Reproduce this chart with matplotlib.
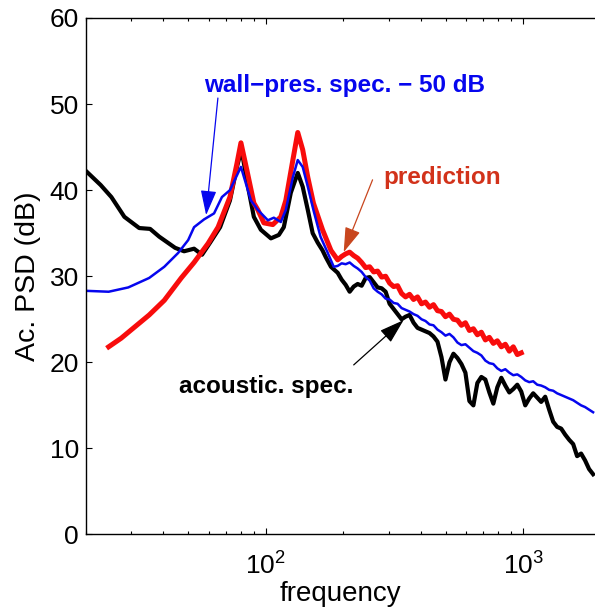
import matplotlib
matplotlib.use('Agg')
import matplotlib.pyplot as plt
from matplotlib.ticker import NullFormatter

plt.rcParams['font.family'] = ['Liberation Sans', 'DejaVu Sans']
plt.rcParams['mathtext.fontset'] = 'custom'
plt.rcParams['mathtext.rm'] = 'Liberation Sans'
plt.rcParams['mathtext.it'] = 'Liberation Sans:italic'

# --------------------------------------------------
# spectra (frequency in Hz, level in dB)
# --------------------------------------------------

# low-frequency part, resonance peaks
acou_f_low = [20.2, 22.8, 25.1, 28.2, 32.2, 35.5, 38.5, 44.4, 48.1, 52.6, 56.5,
              60.7, 66.4, 72.5, 77.2, 80.0, 81.4, 85.2, 89.8, 95.6, 104.6, 112.3,
              117.4, 125.0, 133.0, 139.0, 145.5, 152.0, 159.0, 166.0, 171.0, 179.0]
acou_db_low = [42.1, 40.6, 39.2, 36.9, 35.6, 35.5, 34.6, 33.3, 32.9, 33.2, 32.5,
               33.9, 35.7, 38.8, 42.7, 44.5, 43.8, 40.4, 36.9, 35.4, 34.4, 34.8,
               35.7, 39.7, 42.0, 40.4, 37.7, 35.0, 33.9, 33.0, 32.2, 31.1]

pred_f_low = [24.5, 27.4, 35.2, 40.3, 46.9, 52.6, 59.6, 65.2, 72.5, 77.2, 80.0,
              84.4, 89.8, 93.1, 98.2, 106.4, 114.3, 119.5, 127.3, 133.0, 139.0,
              145.5, 153.0, 166.0, 179.0]
pred_db_low = [21.8, 22.8, 25.5, 27.2, 29.8, 31.6, 33.8, 35.7, 39.2, 43.1, 45.5,
               42.3, 38.5, 37.7, 36.2, 36.0, 36.9, 38.8, 43.5, 46.7, 44.7,
               41.5, 38.5, 35.4, 33.0]

wall_f_low = [20.2, 24.5, 29.2, 35.2, 40.3, 45.6, 49.9, 52.6, 57.5, 62.9, 67.5,
              72.5, 80.0, 87.5, 93.1, 101.8, 107.4, 114.3, 119.5, 127.3, 133.0,
              139.0, 145.5, 153.0, 163.0, 174.0, 183.5]
wall_db_low = [28.3, 28.2, 28.7, 29.8, 31.1, 32.7, 34.2, 35.7, 36.6, 37.3, 39.2,
               40.0, 42.7, 38.8, 37.7, 36.5, 36.8, 36.3, 37.7, 41.5, 43.5,
               42.7, 40.4, 37.7, 34.6, 32.7, 31.1]

# broadband tail
f_tail = [190.1, 197.0, 204.2, 211.6, 219.4, 227.3, 235.6, 244.2, 253.1, 262.3,
          271.8, 281.7, 291.9, 302.5, 313.5, 324.9, 336.7, 348.9, 361.6, 374.8,
          388.4, 402.5, 417.1, 432.3, 448.0, 464.2, 481.1, 498.6, 516.7, 535.5,
          554.9, 575.1, 596.0, 617.6, 640.1, 663.3, 687.4, 712.4, 738.3, 765.1,
          793.0, 821.8, 851.7, 882.7, 914.8, 948.1, 982.3, 1018, 1055, 1093,
          1133, 1174, 1217, 1261, 1307, 1354, 1404, 1455, 1508, 1563,
          1619, 1678, 1739, 1802, 1868]

acou_db_tail = [30.4, 29.6, 29.0, 28.2, 28.8, 29.1, 28.9, 29.8, 29.9, 29.3,
                28.7, 28.6, 28.2, 26.8, 26.2, 25.6, 25.0, 25.3, 25.5, 24.6,
                24.0, 23.8, 23.6, 23.4, 23.0, 22.4, 20.6, 18.0, 20.0, 21.0,
                20.5, 19.8, 18.8, 15.5, 15.0, 17.6, 18.3, 18.0, 16.5, 15.2,
                17.1, 18.2, 17.3, 16.5, 16.9, 17.4, 16.6, 15.0, 15.8, 16.4,
                15.9, 15.4, 16.0, 14.5, 13.1, 12.5, 12.3, 11.6, 11.0, 10.5,
                9.1, 9.4, 8.6, 7.6, 7.0]

wall_db_tail = [31.2, 31.5, 31.4, 31.6, 31.2, 30.9, 30.5, 29.9, 29.5, 28.6,
                28.2, 27.9, 27.4, 27.3, 26.9, 26.8, 26.3, 26.1, 25.9, 25.6,
                25.4, 25.0, 24.8, 24.4, 24.3, 23.8, 23.5, 23.1, 23.3, 22.9,
                22.3, 22.0, 22.1, 21.7, 21.3, 21.1, 20.8, 20.2, 19.9, 19.8,
                19.3, 19.0, 19.2, 18.8, 18.5, 18.6, 18.3, 17.9, 17.7, 17.8,
                17.4, 17.3, 17.1, 16.8, 16.7, 16.4, 16.2, 16.0, 15.8, 15.6,
                15.3, 15.0, 14.8, 14.5, 14.2]

pred_db_tail = [31.9, 32.3, 32.6, 32.8, 32.4, 32.1, 31.6, 31.0, 31.1, 30.5,
                30.6, 29.9, 30.0, 29.2, 28.8, 28.9, 28.0, 27.6, 27.9, 27.3,
                27.6, 26.8, 27.0, 26.4, 26.7, 26.0, 25.9, 25.3, 25.6, 25.0,
                24.9, 24.3, 24.6, 23.7, 23.9, 23.2, 23.5, 22.6, 22.9, 22.2,
                22.5, 21.8, 22.1, 21.3, 21.8, 20.9, 21.1]

acou_f = acou_f_low + f_tail
acou_db = acou_db_low + acou_db_tail
wall_f = wall_f_low + f_tail
wall_db = wall_db_low + wall_db_tail
pred_f = pred_f_low + f_tail[:len(pred_db_tail)]
pred_db = pred_db_low + pred_db_tail

RED = '#f80c0c'
BLUE = '#0606ee'
RED_TXT = '#d2321a'

fig = plt.figure(figsize=(5.95, 6.1), dpi=100)
ax = fig.add_axes([0.1445, 0.1238, 0.8555, 0.8467])

ax.plot(acou_f, acou_db, color='black', lw=3.0, solid_joinstyle='round')
ax.plot(pred_f, pred_db, color=RED, lw=3.6, solid_joinstyle='round')
ax.plot(wall_f, wall_db, color=BLUE, lw=1.8, solid_joinstyle='round')

ax.set_xscale('log')
ax.set_xlim(20, 1900)
ax.set_ylim(0, 60)
ax.set_yticks(range(0, 61, 10))
ax.xaxis.set_minor_formatter(NullFormatter())

ax.spines['right'].set_visible(False)
for s in ['left', 'top', 'bottom']:
    ax.spines[s].set_linewidth(1.0)

ax.tick_params(which='both', direction='in', top=True, right=False,
               labelsize=19, width=0.8)
ax.tick_params(which='major', length=4, pad=5)
ax.tick_params(which='minor', length=2.5)
ax.tick_params(axis='x', which='major', pad=13)

ax.set_xlabel('frequency', fontsize=20, labelpad=1)
ax.set_ylabel('Ac. PSD (dB)', fontsize=20.5, labelpad=6)

# annotations
arrow_style = '-|>,head_length=1.1,head_width=0.35'

ax.text(57.5, 52.1, 'wall\u2212pres. spec. \u2212 50 dB', color=BLUE,
        fontsize=17.5, fontweight='bold', ha='left', va='center')
ax.annotate('', xy=(58.6, 37.1), xytext=(65.1, 50.7),
            arrowprops=dict(arrowstyle=arrow_style, color=BLUE, lw=0.9,
                            mutation_scale=14, shrinkA=0, shrinkB=0))

ax.text(286.7, 41.5, 'prediction', color=RED_TXT,
        fontsize=17.5, fontweight='bold', ha='left', va='center')
ax.annotate('', xy=(200.6, 32.8), xytext=(259.7, 41.2),
            arrowprops=dict(arrowstyle=arrow_style, color='#c8461e', lw=0.9,
                            mutation_scale=14, shrinkA=0, shrinkB=0))

ax.text(46.0, 17.2, 'acoustic. spec.', color='black',
        fontsize=17.5, fontweight='bold', ha='left', va='center')
ax.annotate('', xy=(342.8, 24.9), xytext=(219.4, 19.7),
            arrowprops=dict(arrowstyle=arrow_style, color='black', lw=0.9,
                            mutation_scale=14, shrinkA=0, shrinkB=0))

fig.savefig('out.png', dpi=100)
